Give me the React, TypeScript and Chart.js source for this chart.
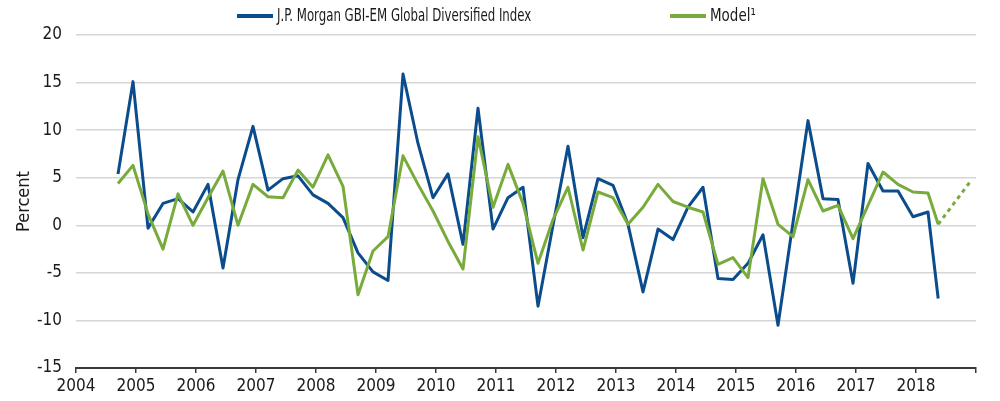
import React, { useEffect, useRef } from "react";
import { Chart, registerables } from "chart.js";

Chart.register(...registerables);

const FONT_FAMILY = '"Liberation Sans Narrow", "DejaVu Sans Condensed", "Roboto Condensed", "Liberation Sans", sans-serif';
const TEXT_COLOR = "#1a1a1a";

// Observation dates (decimal years), quarterly, last index point partial quarter, then model projection
const dates = [
  2004.70, 2004.95, 2005.20, 2005.45, 2005.70, 2005.95, 2006.20, 2006.45, 2006.70, 2006.95,
  2007.20, 2007.45, 2007.70, 2007.95, 2008.20, 2008.45, 2008.70, 2008.95, 2009.20, 2009.45,
  2009.70, 2009.95, 2010.20, 2010.45, 2010.70, 2010.95, 2011.20, 2011.45, 2011.70, 2011.95,
  2012.20, 2012.45, 2012.70, 2012.95, 2013.20, 2013.45, 2013.70, 2013.95, 2014.20, 2014.45,
  2014.70, 2014.95, 2015.20, 2015.45, 2015.70, 2015.95, 2016.20, 2016.45, 2016.70, 2016.95,
  2017.20, 2017.45, 2017.70, 2017.95, 2018.20, 2018.37, 2018.93,
];

const indexValues = [
  5.4, 15.1, -0.3, 2.3, 2.8, 1.4, 4.3, -4.5, 4.8, 10.4,
  3.7, 4.9, 5.2, 3.2, 2.3, 0.8, -2.9, -4.9, -5.8, 15.9,
  8.6, 2.9, 5.4, -2.0, 12.3, -0.4, 2.9, 4.0, -8.5, 0.0,
  8.3, -1.3, 4.9, 4.2, 0.1, -7.0, -0.4, -1.5, 1.9, 4.0,
  -5.6, -5.7, -4.0, -1.0, -10.5, 0.3, 11.0, 2.8, 2.7, -6.1,
  6.5, 3.6, 3.6, 0.9, 1.4, -7.7,
];

const modelValues = [
  4.4, 6.3, 1.2, -2.5, 3.3, 0.0, 2.9, 5.7, 0.0, 4.3,
  3.0, 2.9, 5.8, 4.0, 7.4, 4.1, -7.3, -2.7, -1.2, 7.3,
  4.3, 1.5, -1.7, -4.6, 9.3, 1.9, 6.4, 2.3, -4.0, 0.6,
  4.0, -2.6, 3.5, 2.9, 0.1, 1.9, 4.3, 2.5, 1.9, 1.4,
  -4.1, -3.4, -5.5, 4.9, 0.1, -1.2, 4.8, 1.5, 2.1, -1.4,
  2.1, 5.6, 4.3, 3.5, 3.4, 0.1, 4.8,
];

const seriesLabels = ["J.P. Morgan GBI-EM Global Diversified Index", "Model\u00b9"];
const seriesColors = ["#0b4c8c", "#78ab3b"];
const xTickYears = [2004, 2005, 2006, 2007, 2008, 2009, 2010, 2011, 2012, 2013, 2014, 2015, 2016, 2017, 2018, 2019];
const yTickValues = [-15, -10, -5, 0, 5, 10, 15, 20];
const yAxisTitle = "Percent";

const legendSwatchX = [237, 670];

const customLegend = {
  id: "customLegend",
  afterDraw(chart: any) {
    const { ctx } = chart;
    ctx.save();
    chart.data.datasets.forEach((ds: any) => {
      const idx = ds.legendIndex;
      const x = legendSwatchX[idx];
      ctx.fillStyle = ds.borderColor;
      ctx.fillRect(x, 14, 36, 4);
      ctx.save();
      ctx.fillStyle = TEXT_COLOR;
      ctx.font = `17px ${FONT_FAMILY}`;
      ctx.textBaseline = "alphabetic";
      ctx.textAlign = "left";
      ctx.translate(x + 40, 21);
      ctx.scale(idx === 0 ? 0.77 : 0.88, 1);
      ctx.fillText(ds.label, 0, 0);
      ctx.restore();
    });
    ctx.restore();
  },
};

export default function App() {
  const canvasRef = useRef<HTMLCanvasElement | null>(null);

  useEffect(() => {
    if (!canvasRef.current) return;
    const font = { family: FONT_FAMILY, size: 17 };
    const titleFont = { family: FONT_FAMILY, size: 18 };
    const lastModel = modelValues.length - 1;
    const chart = new Chart(canvasRef.current, {
      type: "line",
      data: {
        datasets: [
          {
            label: seriesLabels[1],
            legendIndex: 1,
            data: modelValues.map((v, i) => ({ x: dates[i], y: v })),
            borderColor: seriesColors[1],
            backgroundColor: seriesColors[1],
            borderWidth: 3,
            pointRadius: 0,
            tension: 0,
            fill: false,
            borderJoinStyle: "round",
            order: 0,
            segment: {
              borderDash: (c: any) => (c.p1DataIndex === lastModel ? [4, 4] : undefined),
            },
          } as any,
          {
            label: seriesLabels[0],
            legendIndex: 0,
            data: indexValues.map((v, i) => ({ x: dates[i], y: v })),
            borderColor: seriesColors[0],
            backgroundColor: seriesColors[0],
            borderWidth: 3,
            pointRadius: 0,
            tension: 0,
            fill: false,
            borderJoinStyle: "round",
            order: 1,
          } as any,
        ],
      },
      options: {
        responsive: false,
        animation: false,
        devicePixelRatio: 1,
        layout: { padding: { top: 35, right: 24, bottom: 0, left: 0 } },
        plugins: {
          legend: { display: false },
          tooltip: { enabled: false },
        },
        scales: {
          x: {
            type: "linear",
            min: 2004,
            max: 2019,
            afterBuildTicks: (scale: any) => {
              scale.ticks = xTickYears.map((v) => ({ value: v }));
            },
            ticks: {
              autoSkip: false,
              maxRotation: 0,
              minRotation: 0,
              font,
              color: TEXT_COLOR,
              padding: 3,
              callback: (v: any) => (v === 2019 ? "" : String(v)),
            },
            grid: {
              drawOnChartArea: false,
              drawTicks: true,
              tickLength: 5,
              color: "#3a3a3a",
              lineWidth: 1.5,
            },
            border: { display: true, color: "#3a3a3a", width: 2 },
            afterFit: (s: any) => {
              s.height = 33;
            },
          },
          y: {
            min: -15,
            max: 20,
            afterBuildTicks: (scale: any) => {
              scale.ticks = yTickValues.map((v) => ({ value: v }));
            },
            ticks: { font, color: TEXT_COLOR, padding: 14 },
            grid: {
              drawTicks: false,
              lineWidth: 1.5,
              color: (c: any) => (c.tick && c.tick.value === -15 ? "rgba(0,0,0,0)" : "#d6d6d6"),
            },
            border: { display: false },
            title: {
              display: true,
              text: yAxisTitle,
              font: titleFont,
              color: TEXT_COLOR,
              padding: { top: 14, bottom: 0 },
            },
            afterFit: (s: any) => {
              s.width = 76;
            },
          },
        },
      } as any,
      plugins: [customLegend],
    });
    return () => chart.destroy();
  }, []);

  return (
    <div style={{ position: "absolute", left: 0, top: 0, width: 1000, height: 401, background: "#fff" }}>
      <canvas ref={canvasRef} width={1000} height={401} style={{ display: "block" }} />
    </div>
  );
}
